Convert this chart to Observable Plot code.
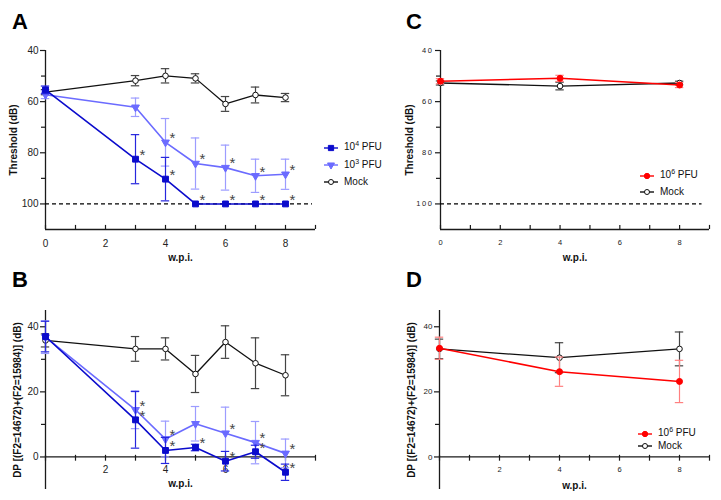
<!DOCTYPE html>
<html><head><meta charset="utf-8">
<script src="https://cdn.jsdelivr.net/npm/d3@7"></script>
<script src="https://cdn.jsdelivr.net/npm/@observablehq/plot@0.6"></script>
<style>
body{margin:0;background:#fff;font-family:"Liberation Sans",Arial,sans-serif;}
#wrap{position:relative;width:721px;height:500px;overflow:hidden;background:#fff;}
.panel{position:absolute;}
.panel svg{overflow:visible;}
.letter{position:absolute;font-weight:bold;font-size:22px;line-height:22px;color:#000;}
.lrow{position:absolute;white-space:nowrap;font-size:10px;line-height:12px;color:#111;display:flex;align-items:center;}
.lrow svg{margin-right:6px;}
.sup{font-size:7px;position:relative;top:-4px;}
.spaced g[aria-label="y-axis tick label"] text{letter-spacing:1.6px;}
</style></head><body><div id="wrap"></div>
<script>
// ---------- data ----------
const weeksAB = [0, 3, 4, 5, 6, 7, 8];
const weeksCD = [0, 4, 8];

// Panel A: ABR threshold (dB)
const thrPfu4    = [55.4, 82.5, 90.3, 100, 100, 100, 100];
const thrPfu4Err = [1.5, 9.6, 8.5, 0, 0, 0, 0];
const thrPfu4Sig = [0, 1, 1, 1, 1, 1, 1];
const thrPfu3    = [57.3, 62.2, 75.9, 84.2, 85.8, 89.0, 88.4];
const thrPfu3Err = [1.5, 3.6, 9.3, 10.0, 8.8, 6.5, 5.9];
const thrPfu3Sig = [0, 0, 1, 1, 1, 1, 1];
const thrMock    = [56.3, 51.8, 49.9, 50.9, 60.9, 57.4, 58.4];
const thrMockErr = [1.0, 2.0, 2.8, 1.8, 2.9, 3.1, 1.6];

// Panel B: DPOAE (dB)
const dpPfu4    = [37.0, 11.4, 2.0, 2.9, -1.3, 1.6, -4.7];
const dpPfu4Err = [4.7, 8.7, 4.0, 1.0, 3.0, 2.0, 2.5];
const dpPfu4Sig = [0, 1, 1, 1, 1, 1, 1];
const dpPfu3    = [36.8, 14.5, 5.5, 10.2, 7.3, 4.4, 1.1];
const dpPfu3Err = [5.0, 5.8, 5.5, 5.3, 8.0, 6.5, 4.4];
const dpPfu3Sig = [0, 1, 1, 0, 1, 1, 1];
const dpMock    = [35.8, 33.2, 33.2, 25.5, 35.3, 28.8, 25.1];
const dpMockErr = [2.0, 3.8, 3.4, 5.7, 5.0, 7.8, 6.3];

// Panel C: threshold
const thrPfu6C    = [52.0, 50.9, 53.5];
const thrPfu6CErr = [1.0, 1.2, 1.0];
const thrMockC    = [52.7, 53.9, 52.7];
const thrMockCErr = [0.8, 1.5, 0.7];

// Panel D: DPOAE
const dpPfu6D    = [33.4, 26.2, 23.2];
const dpPfu6DErr = [3.4, 4.5, 6.5];
const dpMockD    = [33.2, 30.5, 33.2];
const dpMockDErr = [3.0, 4.6, 5.2];

// axes / labels
const thrTicks = [40, 60, 80, 100];
const thrMinor = [50, 70, 90];
const dpTicks = [0, 20, 40];
const dpMinor = [10, 30];
const xAllTicks = [0, 1, 2, 3, 4, 5, 6, 7, 8, 9];
const xLabelsAC = [0, 2, 4, 6, 8];
const xLabelsBD = [2, 4, 6, 8];
const limitLevel = 100;
const thrLabel = "Threshold (dB)";
const dpLabel = "DP [(F2=14672)+(F2=15984)] (dB)";
const xLabel = "w.p.i.";
const legendAB = ["10<span class='sup'>4</span> PFU", "10<span class='sup'>3</span> PFU", "Mock"];
const legendCD = ["10<span class='sup'>6</span> PFU", "Mock"];

// ---------- styles ----------
const ST = {
  pfu4: {color: "#0b0bcc", err: "#2626dd", symbol: "square", fill: "#0b0bcc", r: 3.3, rotate: 0, sw: 1.6},
  pfu3: {color: "#6b6bff", err: "#9c9cff", symbol: "triangle", fill: "#6b6bff", r: 2.9, rotate: 180, sw: 1.6},
  mock: {color: "#111111", err: "#444444", symbol: "circle", fill: "#ffffff", r: 2.8, rotate: 0, sw: 1.3},
  pfu6: {color: "#ff0000", err: "#ff8080", symbol: "circle", fill: "#ff0000", r: 3.0, rotate: 0, sw: 1.5}
};
const AX = "#1a1a1a";

function ser(xs, ys, es, sig) {
  return xs.map((x, i) => ({x, y: ys[i], e: es[i], sig: sig ? sig[i] : 0}));
}

function panel(cfg) {
  const {series, yDomain, reverse, width, height, mL, mR, mT, mB, yTicks, yMinor,
         xAxisY, tickUp, tickDown, xLabels, tickFont, ylabel, yLabelDx, xLabelDy, dashed, cls} = cfg;
  const marks = [];
  marks.push(Plot.ruleX([0], {stroke: AX, strokeWidth: 1.3}));
  marks.push(Plot.ruleY([xAxisY], {stroke: AX, strokeWidth: 1.3}));
  marks.push(Plot.axisY({ticks: yTicks, tickSize: 5, tickPadding: 2, label: null, fontSize: tickFont, stroke: AX, strokeWidth: 1.2, fill: "#222"}));
  marks.push(Plot.axisY({ticks: yMinor, tickSize: 4, label: null, tickFormat: () => "", stroke: AX, strokeWidth: 1.2}));
  marks.push(Plot.ruleX(xAllTicks, {x: d => d, y1: xAxisY + tickUp, y2: xAxisY - tickDown, stroke: AX, strokeWidth: 1.2}));
  marks.push(Plot.text(xLabels, {x: d => d, y: xAxisY, dy: cfg.xTickDy, text: d => String(d), fontSize: cfg.xTickFont, fill: "#222"}));
  if (dashed) marks.push(Plot.ruleY([dashed.y], {x1: dashed.from, x2: dashed.to, stroke: "#000", strokeWidth: 1.3, strokeDasharray: "4,3"}));
  marks.push(Plot.text([ylabel], {frameAnchor: "left", dx: yLabelDx, rotate: -90, textAnchor: "middle", lineAnchor: "middle", fontWeight: "bold", fontSize: 10, fill: "#111"}));
  marks.push(Plot.text([xLabel], {frameAnchor: "bottom", dy: xLabelDy, textAnchor: "middle", lineAnchor: "middle", fontWeight: "bold", fontSize: 10, fill: "#111"}));
  for (const s of series) {
    const st = ST[s.key];
    const withErr = s.data.filter(d => d.e > 0);
    marks.push(Plot.ruleX(withErr, {x: "x", y1: d => d.y - d.e, y2: d => d.y + d.e, stroke: st.err, strokeWidth: 1.2}));
    marks.push(Plot.ruleY(withErr, {y: d => d.y + d.e, x1: d => d.x - 0.14, x2: d => d.x + 0.14, stroke: st.err, strokeWidth: 1.2}));
    marks.push(Plot.ruleY(withErr, {y: d => d.y - d.e, x1: d => d.x - 0.14, x2: d => d.x + 0.14, stroke: st.err, strokeWidth: 1.2}));
    marks.push(Plot.line(s.data, {x: "x", y: "y", stroke: st.color, strokeWidth: st.sw}));
    marks.push(Plot.dot(s.data, {x: "x", y: "y", symbol: () => st.symbol, r: st.r, fill: st.fill, stroke: st.color, strokeWidth: 1, rotate: st.rotate}));
    marks.push(Plot.text(s.data.filter(d => d.sig), {x: "x", y: "y", text: () => "*", dx: 7, dy: -4, fontSize: 15, fill: "#444"}));
  }
  return Plot.plot({
    width, height, marginLeft: mL, marginRight: mR, marginTop: mT, marginBottom: mB,
    className: cls,
    style: {fontFamily: "'Liberation Sans', Arial, sans-serif", background: "transparent", overflow: "visible"},
    x: {domain: [0, 9], axis: null},
    y: {domain: yDomain, reverse},
    symbol: {type: "identity"},
    marks
  });
}

const wrap = document.getElementById("wrap");
function place(el, left, top) {
  const d = document.createElement("div");
  d.className = "panel"; d.style.left = left + "px"; d.style.top = top + "px";
  d.appendChild(el); wrap.appendChild(d);
}
function letter(t, left, top) {
  const d = document.createElement("div");
  d.className = "letter"; d.textContent = t; d.style.left = left + "px"; d.style.top = top + "px";
  wrap.appendChild(d);
}
function legend(keys, labels, left, tops) {
  keys.forEach((k, i) => {
    const st = ST[k];
    const sym = d3.symbol(k === "pfu4" ? d3.symbolSquare : k === "pfu3" ? d3.symbolTriangle : d3.symbolCircle, Math.PI * st.r * st.r * 0.8)();
    const row = document.createElement("div");
    row.className = "lrow";
    row.style.left = left + "px"; row.style.top = (tops[i] - 6) + "px";
    row.innerHTML = `<svg width="14" height="12" viewBox="-7 -6 14 12"><line x1="-7" x2="7" y1="0" y2="0" stroke="${st.color}" stroke-width="1.4"/><path d="${sym}" transform="rotate(${st.rotate})" fill="${st.fill}" stroke="${st.color}" stroke-width="1"/></svg><span>${labels[i]}</span>`;
    wrap.appendChild(row);
  });
}

// Panel A
place(panel({
  series: [
    {key: "mock", data: ser(weeksAB, thrMock, thrMockErr)},
    {key: "pfu3", data: ser(weeksAB, thrPfu3, thrPfu3Err, thrPfu3Sig)},
    {key: "pfu4", data: ser(weeksAB, thrPfu4, thrPfu4Err, thrPfu4Sig)}
  ],
  yDomain: [40, 110], reverse: true, width: 360, height: 265, mL: 45, mR: 45, mT: 50, mB: 36,
  yTicks: thrTicks, yMinor: thrMinor, xAxisY: 110, tickUp: 0, tickDown: 1.6,
  xLabels: xLabelsAC, tickFont: 10, xTickFont: 10, xTickDy: 14,
  ylabel: thrLabel, yLabelDx: -32, xLabelDy: 28,
  dashed: {y: limitLevel, from: 0, to: 8.9}
}), 0, 0);

// Panel C
place(panel({
  series: [
    {key: "mock", data: ser(weeksCD, thrMockC, thrMockCErr)},
    {key: "pfu6", data: ser(weeksCD, thrPfu6C, thrPfu6CErr)}
  ],
  yDomain: [40, 110], reverse: true, width: 361, height: 265, mL: 80, mR: 12, mT: 50, mB: 36,
  yTicks: thrTicks, yMinor: thrMinor, xAxisY: 110, tickUp: 0, tickDown: 1.6,
  xLabels: xLabelsAC, tickFont: 7.5, xTickFont: 7.5, xTickDy: 13,
  ylabel: thrLabel, yLabelDx: -31, xLabelDy: 28, cls: "spaced",
  dashed: {y: limitLevel, from: 0, to: 8.75}
}), 360, 0);

// Panel B
place(panel({
  series: [
    {key: "mock", data: ser(weeksAB, dpMock, dpMockErr)},
    {key: "pfu3", data: ser(weeksAB, dpPfu3, dpPfu3Err, dpPfu3Sig)},
    {key: "pfu4", data: ser(weeksAB, dpPfu4, dpPfu4Err, dpPfu4Sig)}
  ],
  yDomain: [-10, 45], reverse: false, width: 360, height: 238, mL: 45, mR: 45, mT: 48, mB: 11,
  yTicks: dpTicks, yMinor: dpMinor, xAxisY: 0, tickUp: 0.5, tickDown: 1.3,
  xLabels: xLabelsBD, tickFont: 10, xTickFont: 10, xTickDy: 13,
  ylabel: dpLabel, yLabelDx: -28, xLabelDy: -6
}), 0, 262);

// Panel D
place(panel({
  series: [
    {key: "mock", data: ser(weeksCD, dpMockD, dpMockDErr)},
    {key: "pfu6", data: ser(weeksCD, dpPfu6D, dpPfu6DErr)}
  ],
  yDomain: [-10, 45], reverse: false, width: 361, height: 238, mL: 79, mR: 12, mT: 48, mB: 11,
  yTicks: dpTicks, yMinor: dpMinor, xAxisY: 0, tickUp: 0.5, tickDown: 1.3,
  xLabels: xLabelsBD, tickFont: 8, xTickFont: 7.5, xTickDy: 13,
  ylabel: dpLabel, yLabelDx: -28, xLabelDy: -4
}), 360, 262);

letter("A", 12, 11);
letter("C", 406, 11);
letter("B", 12, 269);
letter("D", 406, 269);

legend(["pfu4", "pfu3", "mock"], legendAB, 324, [147, 164.5, 181.5]);
legend(["pfu6", "mock"], legendCD, 640, [175, 192]);
legend(["pfu6", "mock"], legendCD, 638, [433, 445.5]);
</script></body></html>
